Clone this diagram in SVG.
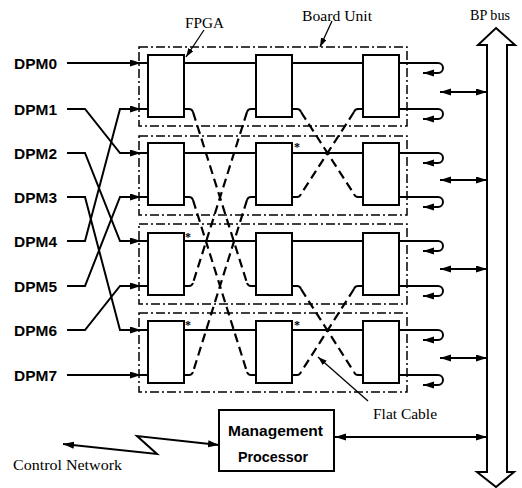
<svg xmlns="http://www.w3.org/2000/svg" width="522" height="488" viewBox="0 0 522 488">
<style>
.bg{fill:#fff}
.fpga{fill:#fff;stroke:#000;stroke-width:2}
.board{fill:none;stroke:#000;stroke-width:1.5;stroke-dasharray:9 3 2 3}
.w{fill:none;stroke:#000;stroke-width:2}
.thin{fill:none;stroke:#000;stroke-width:1.3}
.dash{fill:none;stroke:#000;stroke-width:2.2;stroke-dasharray:9 5}
.sans{font-family:"Liberation Sans",Arial,sans-serif;font-size:15px;font-weight:bold;fill:#000}
.serif{font-family:"Liberation Serif","Times New Roman",serif;font-size:15px;fill:#000}
.star{font-family:"Liberation Serif",serif;font-size:12px;font-weight:bold;fill:#000}
</style>
<defs>
<marker id="ah" markerUnits="userSpaceOnUse" markerWidth="12" markerHeight="8" refX="11" refY="3.5" orient="auto-start-reverse">
<path d="M0,0 L11,3.5 L0,7 z" fill="#000"/>
</marker>
<marker id="ahs" markerUnits="userSpaceOnUse" markerWidth="10" markerHeight="7" refX="9" refY="3" orient="auto">
<path d="M0,0 L9,3 L0,6 z" fill="#000"/>
</marker>
</defs>
<rect class="bg" width="522" height="488"/>

<g id="board1">
<rect class="board" x="139" y="47" width="268" height="79"/>
<rect class="fpga" x="148" y="55" width="36" height="62"/>
<rect class="fpga" x="256" y="55" width="36" height="62"/>
<rect class="fpga" x="363" y="55" width="36" height="62"/>
</g>
<g id="board2">
<rect class="board" x="139" y="136" width="268" height="79"/>
<rect class="fpga" x="148" y="143" width="36" height="62"/>
<rect class="fpga" x="256" y="143" width="36" height="62"/>
<rect class="fpga" x="363" y="143" width="36" height="62"/>
<text class="star" x="294" y="151">*</text>
</g>
<g id="board3">
<rect class="board" x="139" y="224" width="268" height="80"/>
<rect class="fpga" x="148" y="233" width="36" height="62"/>
<rect class="fpga" x="256" y="233" width="36" height="62"/>
<rect class="fpga" x="363" y="233" width="36" height="62"/>
<text class="star" x="185" y="241">*</text>
</g>
<g id="board4">
<rect class="board" x="139" y="313" width="268" height="79"/>
<rect class="fpga" x="148" y="321" width="36" height="62"/>
<rect class="fpga" x="256" y="321" width="36" height="62"/>
<rect class="fpga" x="363" y="321" width="36" height="62"/>
<text class="star" x="185" y="329">*</text>
<text class="star" x="294" y="329">*</text>
</g>

<g id="mgmt">
<rect class="fpga" x="219" y="410" width="115" height="61"/>
<text class="sans" x="228" y="436" textLength="95" lengthAdjust="spacingAndGlyphs">Management</text>
<text class="sans" x="238" y="462" textLength="70" lengthAdjust="spacingAndGlyphs">Processor</text>
</g>

<g id="bpbus">
<polygon points="496,28 515,45 507,45 507,472 514,472 496,487 477,472 487,472 487,45 478,45" fill="#fff" stroke="#000" stroke-width="2" stroke-linejoin="miter"/>
<text class="serif" x="470" y="20" textLength="40" lengthAdjust="spacingAndGlyphs">BP bus</text>
</g>

<g id="labels">
<text class="sans" x="14" y="69" textLength="43" lengthAdjust="spacingAndGlyphs">DPM0</text>
<text class="sans" x="14" y="115" textLength="43" lengthAdjust="spacingAndGlyphs">DPM1</text>
<text class="sans" x="14" y="159" textLength="43" lengthAdjust="spacingAndGlyphs">DPM2</text>
<text class="sans" x="14" y="203" textLength="43" lengthAdjust="spacingAndGlyphs">DPM3</text>
<text class="sans" x="14" y="247" textLength="43" lengthAdjust="spacingAndGlyphs">DPM4</text>
<text class="sans" x="14" y="292" textLength="43" lengthAdjust="spacingAndGlyphs">DPM5</text>
<text class="sans" x="14" y="336" textLength="43" lengthAdjust="spacingAndGlyphs">DPM6</text>
<text class="sans" x="14" y="381" textLength="43" lengthAdjust="spacingAndGlyphs">DPM7</text>
<text class="serif" x="185" y="28" textLength="39" lengthAdjust="spacingAndGlyphs">FPGA</text>
<text class="serif" x="302" y="21" textLength="70" lengthAdjust="spacingAndGlyphs">Board Unit</text>
<text class="serif" x="373" y="419" textLength="64" lengthAdjust="spacingAndGlyphs">Flat Cable</text>
<text class="serif" x="13" y="470" textLength="109" lengthAdjust="spacingAndGlyphs">Control Network</text>
</g>

<g id="connectors">
<path class="w" marker-end="url(#ah)" d="M67,63 H141"/>
<path class="w" marker-end="url(#ah)" d="M67,109 H85 L120,153 H141"/>
<path class="w" marker-end="url(#ah)" d="M67,153 H85 L120,241 H141"/>
<path class="w" marker-end="url(#ah)" d="M67,197 H85 L120,330 H141"/>
<path class="w" marker-end="url(#ah)" d="M67,241 H85 L120,109 H141"/>
<path class="w" marker-end="url(#ah)" d="M67,286 H85 L120,197 H141"/>
<path class="w" marker-end="url(#ah)" d="M67,330 H85 L120,286 H141"/>
<path class="w" marker-end="url(#ah)" d="M67,375 H141"/>
<path class="w" d="M139,63 H148 M139,109 H148 M139,153 H148 M139,197 H148 M139,241 H148 M139,286 H148 M139,330 H148 M139,375 H148"/>
<path class="w" d="M184,63 H256 M292,63 H363 M184,153 H256 M292,153 H363 M184,241 H256 M292,241 H363 M184,330 H256 M292,330 H363"/>
<path class="w" d="M184,109 H189 Q192,109 193,112 M256,109 H251 Q248,109 247,112 M292,109 H297 Q300,109 301,112 M363,109 H358 Q355,109 354,112
M292,197 H297 Q300,197 301,194 M363,197 H358 Q355,197 354,194
M184,197 H189 Q192,197 193,200 M256,197 H251 Q248,197 247,200
M184,286 H189 Q192,286 193,283 M256,286 H251 Q248,286 247,283 M292,286 H297 Q300,286 301,289 M363,286 H358 Q355,286 354,289
M184,375 H189 Q192,375 193,372 M256,375 H251 Q248,375 247,372 M292,375 H297 Q300,375 301,372 M363,375 H358 Q355,375 354,372"/>
<path class="dash" d="M193,112 L247,283 M247,112 L193,283"/>
<path class="dash" d="M193,200 L247,372 M247,200 L193,372"/>
<path class="dash" d="M301,112 L354,194 M354,112 L301,194"/>
<path class="dash" d="M301,289 L354,372 M354,289 L301,372"/>
<path class="w" marker-end="url(#ah)" d="M399,63 H438 A5,5 0 0 1 438,73 H423"/>
<path class="w" marker-end="url(#ah)" d="M399,109 H438 A5,5 0 0 1 438,119 H423"/>
<path class="w" marker-end="url(#ah)" d="M399,153 H438 A5,5 0 0 1 438,163 H423"/>
<path class="w" marker-end="url(#ah)" d="M399,197 H438 A5,5 0 0 1 438,207 H423"/>
<path class="w" marker-end="url(#ah)" d="M399,241 H438 A5,5 0 0 1 438,251 H423"/>
<path class="w" marker-end="url(#ah)" d="M399,286 H438 A5,5 0 0 1 438,296 H423"/>
<path class="w" marker-end="url(#ah)" d="M399,330 H438 A5,5 0 0 1 438,340 H423"/>
<path class="w" marker-end="url(#ah)" d="M399,375 H438 A5,5 0 0 1 438,385 H423"/>
<path class="w" marker-start="url(#ah)" marker-end="url(#ah)" d="M440,92 H487"/>
<path class="w" marker-start="url(#ah)" marker-end="url(#ah)" d="M440,180 H487"/>
<path class="w" marker-start="url(#ah)" marker-end="url(#ah)" d="M440,269 H487"/>
<path class="w" marker-start="url(#ah)" marker-end="url(#ah)" d="M440,358 H487"/>
<path class="w" marker-start="url(#ah)" marker-end="url(#ah)" d="M335,437 H487"/>
<path class="w" marker-start="url(#ah)" marker-end="url(#ah)" d="M219,445 L137,436 L157,454 L63,444"/>
<path class="thin" marker-end="url(#ahs)" d="M204,30 L186,57"/>
<path class="thin" marker-end="url(#ahs)" d="M332,21 L320,47"/>
<path class="thin" marker-end="url(#ahs)" d="M368,401 L318,357"/>
</g>
</svg>
